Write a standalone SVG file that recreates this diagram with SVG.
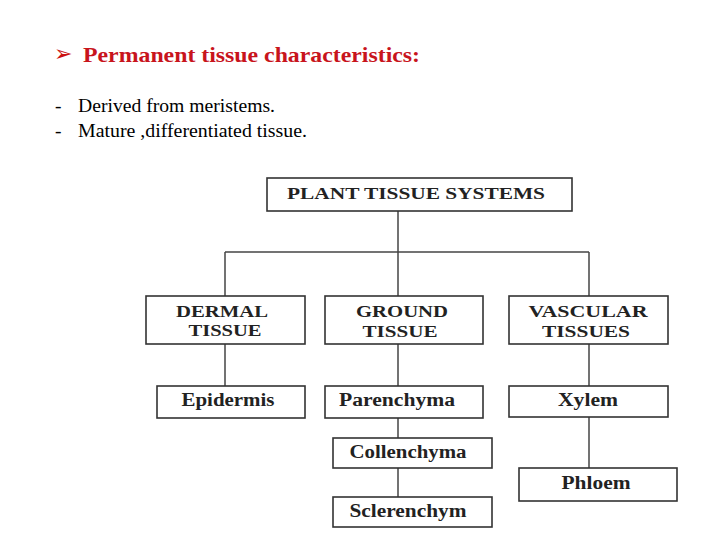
<svg xmlns="http://www.w3.org/2000/svg" width="720" height="540" viewBox="0 0 720 540">
<style>
.box{fill:#fff;stroke:#333;stroke-width:1.6}
.lbl{font-family:"Liberation Serif","Times New Roman",serif;font-weight:bold;font-size:16px;fill:#222;text-anchor:middle}
.sm{font-size:18px}
.con{stroke:#444;stroke-width:1.5;fill:none}
.body{font-family:"Liberation Serif","Times New Roman",serif;font-size:19.5px;fill:#000}
</style>
<rect width="720" height="540" fill="#fff"/>
<g id="heading">
<text x="54" y="61" font-family="DejaVu Sans,sans-serif" font-size="22" fill="#cc1111">➢</text>
<text x="83" y="62" font-family="Liberation Serif,serif" font-weight="bold" font-size="22" fill="#c8141c" textLength="337" lengthAdjust="spacingAndGlyphs">Permanent tissue characteristics:</text>
<text class="body" x="55" y="112">-</text>
<text class="body" x="78" y="112" textLength="197" lengthAdjust="spacingAndGlyphs">Derived from meristems.</text>
<text class="body" x="55" y="137">-</text>
<text class="body" x="78" y="137" textLength="229" lengthAdjust="spacingAndGlyphs">Mature ,differentiated tissue.</text>
</g>
<g id="connectors">
<line class="con" x1="398" y1="211" x2="398" y2="296"/>
<line class="con" x1="225" y1="252" x2="589" y2="252"/>
<line class="con" x1="225" y1="252" x2="225" y2="296"/>
<line class="con" x1="589" y1="252" x2="589" y2="296"/>
<line class="con" x1="225" y1="344" x2="225" y2="386"/>
<line class="con" x1="398" y1="344" x2="398" y2="386"/>
<line class="con" x1="589" y1="344" x2="589" y2="386"/>
<line class="con" x1="398" y1="418" x2="398" y2="438"/>
<line class="con" x1="398" y1="468" x2="398" y2="497"/>
<line class="con" x1="589" y1="417" x2="589" y2="468"/>
</g>
<g id="root">
<rect class="box" x="267" y="178" width="305" height="33"/>
<text class="lbl" x="416" y="199" font-size="17" textLength="258" lengthAdjust="spacingAndGlyphs">PLANT TISSUE SYSTEMS</text>
</g>
<g id="dermal">
<rect class="box" x="146" y="296" width="159" height="48"/>
<text class="lbl" x="222" y="317" textLength="92" lengthAdjust="spacingAndGlyphs">DERMAL</text>
<text class="lbl" x="225" y="336" textLength="73" lengthAdjust="spacingAndGlyphs">TISSUE</text>
</g>
<g id="ground">
<rect class="box" x="325" y="296" width="158" height="48"/>
<text class="lbl" x="402" y="317" textLength="92" lengthAdjust="spacingAndGlyphs">GROUND</text>
<text class="lbl" x="400" y="337" textLength="75" lengthAdjust="spacingAndGlyphs">TISSUE</text>
</g>
<g id="vascular">
<rect class="box" x="509" y="296" width="159" height="48"/>
<text class="lbl" x="588" y="317" textLength="119" lengthAdjust="spacingAndGlyphs">VASCULAR</text>
<text class="lbl" x="586" y="337" textLength="88" lengthAdjust="spacingAndGlyphs">TISSUES</text>
</g>
<g id="epidermis">
<rect class="box" x="157" y="386" width="148" height="32"/>
<text class="lbl sm" x="228" y="406" textLength="93" lengthAdjust="spacingAndGlyphs">Epidermis</text>
</g>
<g id="parenchyma">
<rect class="box" x="325" y="386" width="158" height="32"/>
<text class="lbl sm" x="397" y="406" textLength="116" lengthAdjust="spacingAndGlyphs">Parenchyma</text>
</g>
<g id="xylem">
<rect class="box" x="509" y="386" width="159" height="31"/>
<text class="lbl sm" x="588" y="406" textLength="60" lengthAdjust="spacingAndGlyphs">Xylem</text>
</g>
<g id="collenchyma">
<rect class="box" x="333" y="438" width="159" height="30"/>
<text class="lbl sm" x="408" y="458" textLength="117" lengthAdjust="spacingAndGlyphs">Collenchyma</text>
</g>
<g id="sclerenchym">
<rect class="box" x="333" y="497" width="159" height="30"/>
<text class="lbl sm" x="408" y="517" textLength="117" lengthAdjust="spacingAndGlyphs">Sclerenchym</text>
</g>
<g id="phloem">
<rect class="box" x="519" y="468" width="158" height="33"/>
<text class="lbl sm" x="596" y="489" textLength="69" lengthAdjust="spacingAndGlyphs">Phloem</text>
</g>
</svg>
